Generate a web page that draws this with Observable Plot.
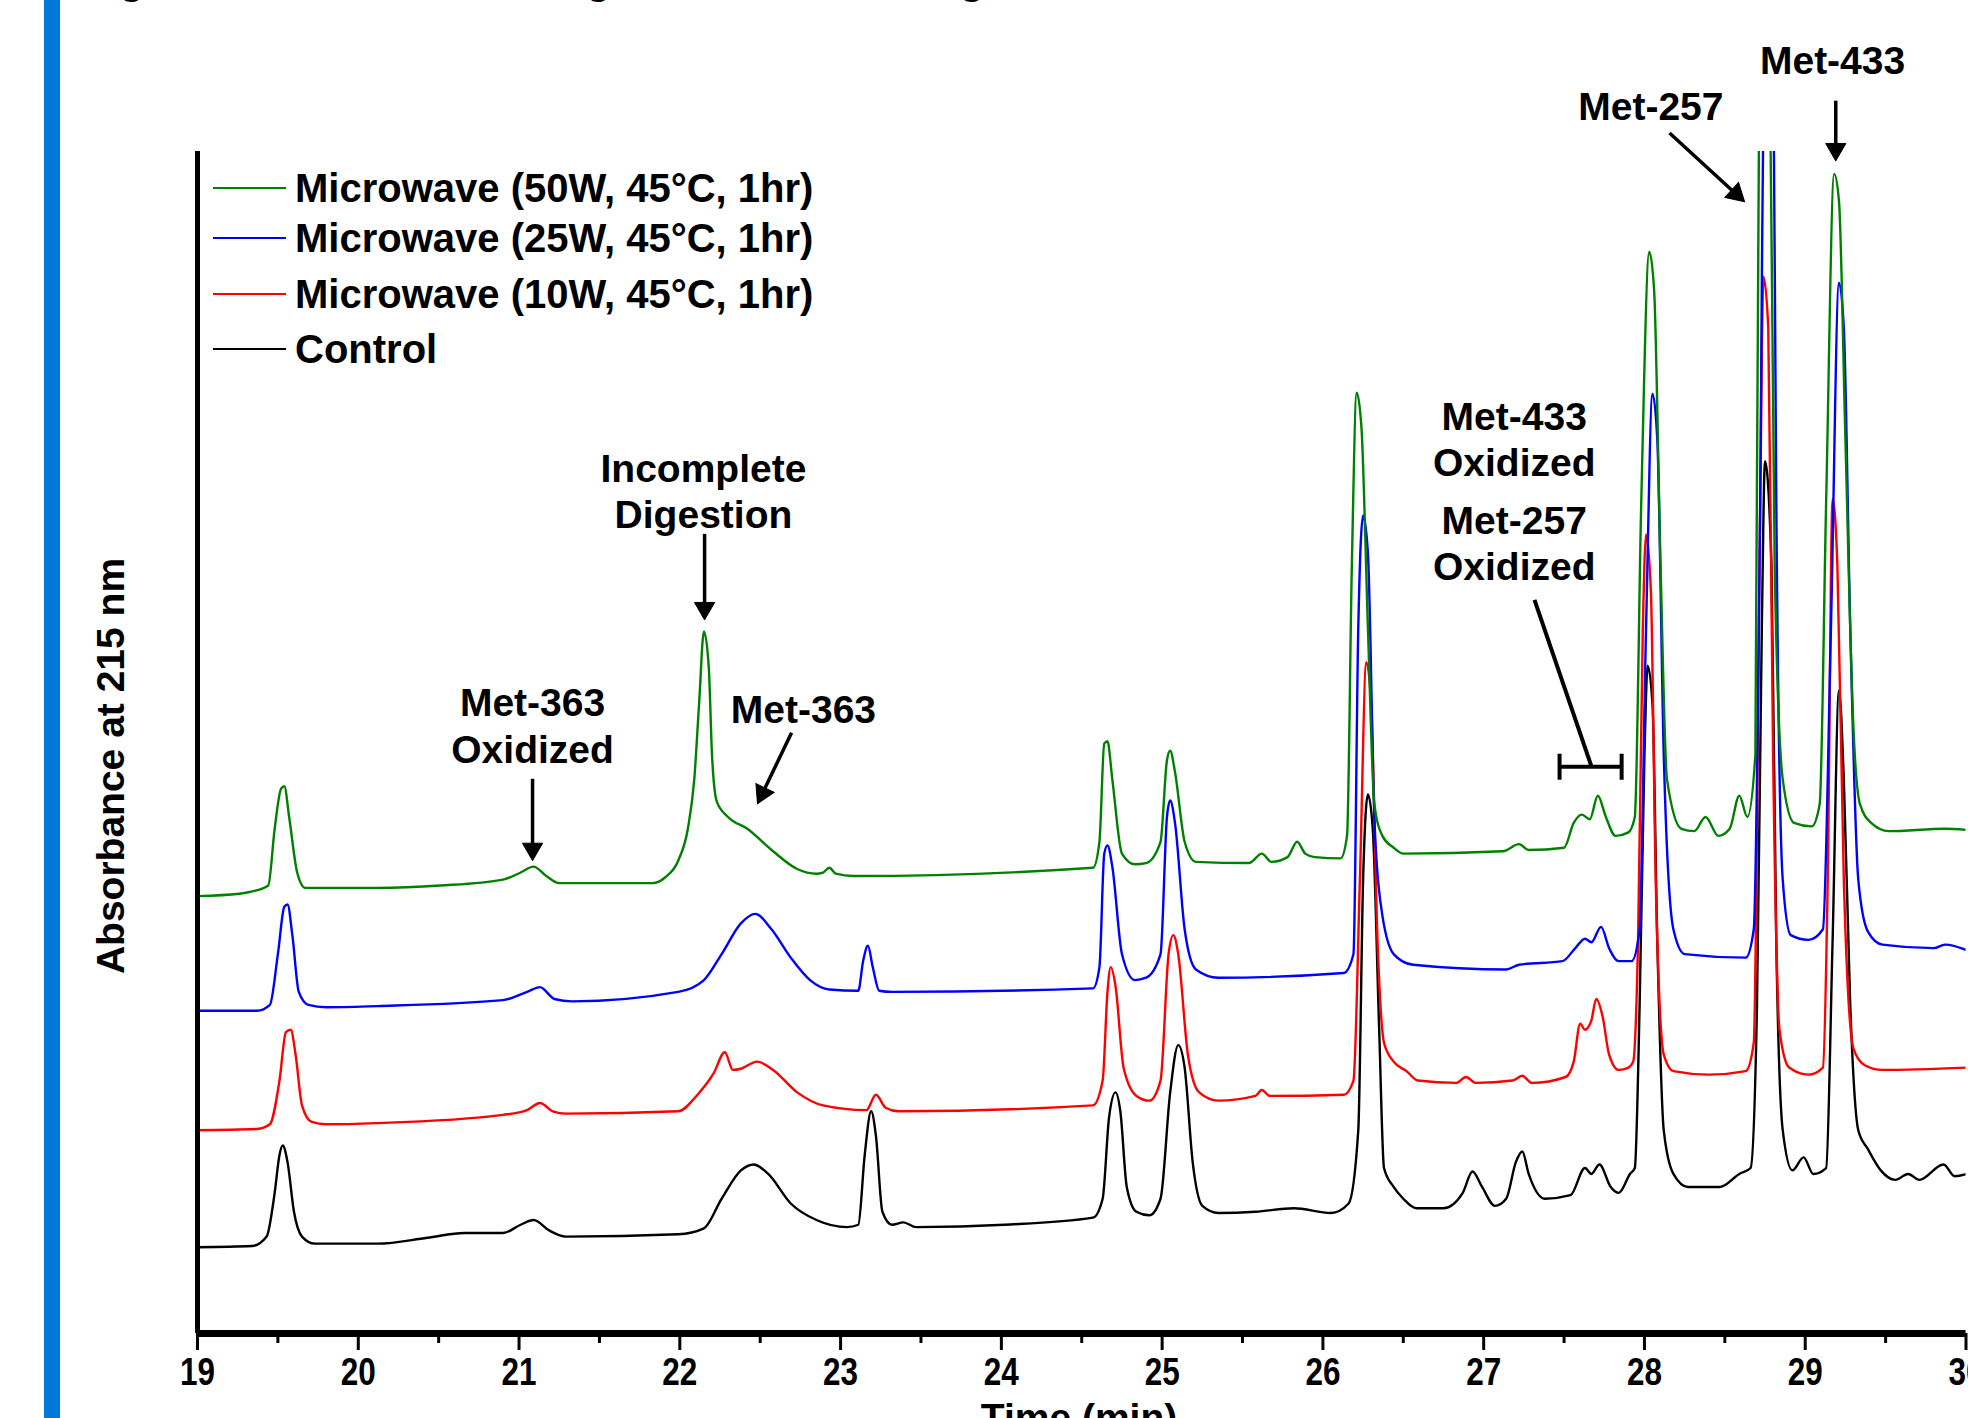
<!DOCTYPE html>
<html><head><meta charset="utf-8">
<script src="https://cdn.jsdelivr.net/npm/d3@7"></script>
<script src="https://cdn.jsdelivr.net/npm/@observablehq/plot@0.6"></script>
<style>
html,body{margin:0;padding:0;background:#fff;width:1968px;height:1418px;overflow:hidden;position:relative;font-family:"Liberation Sans",Arial,sans-serif;color:#000;}
#chart{position:absolute;left:0;top:0;}
#bar{position:absolute;left:44px;top:0;width:16px;height:1418px;background:#0078d7;}
#title{position:absolute;left:84px;top:-40px;font-size:40px;font-weight:bold;line-height:1;white-space:nowrap;}
.lg{position:absolute;left:213px;height:0;}
.lg .sw{position:absolute;left:0;top:-1px;width:73px;height:2px;}
.lg .tx{position:absolute;left:82px;top:-20px;font-size:40px;font-weight:bold;line-height:40px;white-space:nowrap;}
#ylabel{position:absolute;left:110px;top:766px;transform:translate(-50%,-50%) rotate(-90deg);font-size:39px;font-weight:bold;white-space:nowrap;line-height:1;}
#xlabel{position:absolute;left:1079px;top:1398px;transform:translateX(-50%);font-size:39px;font-weight:bold;white-space:nowrap;line-height:1;}
</style></head><body>
<div id="chart"></div>
<div id="bar"></div>
<div id="title">Figure 12. HPLC chromatograms of Control Digests</div>
<div id="legend"></div>
<div id="ylabel">Absorbance at 215 nm</div>
<div id="xlabel">Time (min)</div>
<script>
// ---- data (time in min, absorbance in arbitrary units, y-axis top = 100) ----
const seriesNames = ["Microwave (50W, 45°C, 1hr)", "Microwave (25W, 45°C, 1hr)", "Microwave (10W, 45°C, 1hr)", "Control"];
const seriesColors = ["#008000", "#0000ff", "#ff0000", "#000000"];

const control = [
 [19.00,7.3],[19.34,7.4],[19.43,8.2],[19.48,11.9],[19.51,15.1],[19.53,15.9],[19.56,14.5],[19.60,10.3],[19.65,8.2],[19.73,7.6],
 [20.12,7.6],[20.43,8.1],[20.66,8.5],[20.90,8.5],[21.01,9.2],[21.09,9.6],[21.19,8.7],[21.29,8.2],[21.99,8.4],[22.15,8.9],
 [22.26,11.4],[22.38,13.8],[22.46,14.3],[22.55,13.5],[22.69,11.0],[22.85,9.6],[23.04,9.0],[23.11,9.2],[23.15,15.1],[23.19,18.8],
 [23.22,16.7],[23.26,10.3],[23.32,9.2],[23.39,9.4],[23.47,9.0],[24.02,9.2],[24.57,9.8],[24.63,11.4],[24.67,18.3],[24.71,20.4],
 [24.74,18.8],[24.78,12.4],[24.84,10.3],[24.92,10.0],[24.99,11.4],[25.05,20.4],[25.10,24.4],[25.14,22.5],[25.19,14.5],[25.25,10.8],
 [25.35,10.2],[25.58,10.3],[25.82,10.6],[26.05,10.2],[26.16,11.0],[26.22,17.2],[26.25,38.4],[26.28,45.6],[26.31,42.7],[26.35,25.7],
 [26.38,14.0],[26.44,12.4],[26.50,11.4],[26.58,10.6],[26.75,10.6],[26.87,11.9],[26.93,13.7],[26.99,12.4],[27.07,10.8],[27.14,11.4],
 [27.20,14.5],[27.24,15.4],[27.28,13.5],[27.38,11.4],[27.54,11.7],[27.63,14.0],[27.67,13.5],[27.72,14.3],[27.79,12.4],[27.84,11.9],
 [27.91,13.5],[27.94,14.0],[27.97,27.8],[28.00,49.0],[28.02,56.5],[28.05,53.2],[28.08,33.1],[28.12,17.2],[28.18,13.5],[28.27,12.4],
 [28.47,12.4],[28.59,13.5],[28.66,14.0],[28.70,27.8],[28.73,59.7],[28.75,73.8],[28.79,65.0],[28.82,33.1],[28.86,17.2],[28.92,13.8],
 [28.99,14.9],[29.05,13.5],[29.13,14.0],[29.17,33.1],[29.21,54.4],[29.24,46.9],[29.28,27.8],[29.33,17.2],[29.39,15.6],[29.47,13.8],
 [29.56,13.0],[29.64,13.5],[29.71,13.0],[29.86,14.3],[29.93,13.3],[30.01,13.5]
];
const mw10 = [
 [19.00,17.2],[19.37,17.3],[19.45,17.7],[19.51,21.4],[19.55,25.5],[19.58,25.7],[19.61,23.6],[19.65,19.3],[19.71,17.9],[19.80,17.7],
 [20.12,17.8],[20.90,18.5],[21.05,18.9],[21.13,19.5],[21.21,18.8],[21.29,18.6],[21.99,18.8],[22.11,20.2],[22.21,22.0],[22.28,23.8],
 [22.33,22.3],[22.38,22.4],[22.48,23.0],[22.58,22.3],[22.73,20.4],[22.89,19.3],[23.16,18.9],[23.22,20.2],[23.28,19.1],[23.36,18.8],
 [24.57,19.3],[24.63,21.4],[24.66,28.9],[24.68,31.0],[24.71,29.4],[24.76,22.5],[24.84,20.1],[24.92,19.7],[24.99,21.4],[25.04,32.1],
 [25.07,33.7],[25.10,32.1],[25.16,23.6],[25.23,20.4],[25.35,19.7],[25.58,20.1],[25.62,20.6],[25.67,20.1],[26.13,20.2],[26.19,21.4],
 [26.23,38.4],[26.27,56.8],[26.30,53.3],[26.34,33.1],[26.38,24.6],[26.44,23.0],[26.52,22.2],[26.59,21.4],[26.83,21.2],[26.89,21.7],
 [26.95,21.2],[27.18,21.4],[27.24,21.8],[27.30,21.2],[27.51,21.7],[27.56,23.0],[27.60,26.2],[27.63,25.7],[27.67,26.5],[27.70,28.3],
 [27.74,26.8],[27.78,23.6],[27.84,22.3],[27.90,22.5],[27.93,23.0],[27.96,33.1],[27.99,59.7],[28.01,67.6],[28.04,62.8],[28.07,38.4],
 [28.12,23.6],[28.18,22.2],[28.40,21.9],[28.63,22.2],[28.68,24.6],[28.72,70.3],[28.74,89.4],[28.77,85.1],[28.80,49.0],[28.84,25.7],
 [28.90,22.5],[29.02,21.9],[29.11,22.5],[29.14,38.4],[29.17,70.6],[29.20,65.0],[29.24,38.4],[29.30,24.1],[29.37,22.7],[29.48,22.3],
 [30.01,22.5]
];
const mw25 = [
 [19.00,27.3],[19.37,27.3],[19.45,27.8],[19.50,32.1],[19.54,36.1],[19.56,36.3],[19.59,33.7],[19.63,28.9],[19.69,27.8],[19.80,27.6],
 [20.12,27.7],[20.90,28.2],[21.05,28.9],[21.13,29.3],[21.22,28.3],[21.33,28.1],[21.99,28.9],[22.15,29.9],[22.26,32.1],[22.38,34.7],
 [22.47,35.5],[22.57,34.2],[22.69,31.8],[22.81,29.9],[22.93,29.1],[23.11,29.0],[23.14,31.5],[23.17,32.8],[23.20,31.0],[23.24,29.0],
 [23.32,28.9],[24.57,29.2],[24.61,31.0],[24.64,40.6],[24.66,41.3],[24.69,39.5],[24.75,32.1],[24.83,29.9],[24.90,30.1],[24.99,32.1],
 [25.03,43.7],[25.05,45.1],[25.08,43.2],[25.14,34.2],[25.21,30.8],[25.35,30.1],[26.13,30.5],[26.19,32.1],[26.22,59.7],[26.25,69.2],
 [26.28,66.0],[26.32,43.7],[26.36,36.3],[26.44,32.1],[26.56,31.2],[27.14,30.8],[27.22,31.2],[27.49,31.5],[27.57,32.6],[27.63,33.4],
 [27.67,33.1],[27.73,34.4],[27.78,32.6],[27.84,31.5],[27.92,31.5],[27.97,34.2],[28.01,59.7],[28.05,79.5],[28.08,75.6],[28.12,49.0],
 [28.18,34.2],[28.25,32.1],[28.63,31.8],[28.68,34.2],[28.72,70.3],[28.75,118.0],[28.78,120.0],[28.80,110.0],[28.82,70.3],[28.86,38.4],
 [28.91,33.7],[29.02,33.3],[29.11,34.2],[29.16,59.7],[29.21,88.9],[29.24,85.1],[29.28,59.7],[29.33,38.4],[29.39,34.0],[29.48,32.9],
 [29.80,32.6],[29.87,32.9],[30.01,32.4]
];
const mw50 = [
 [19.00,37.0],[19.26,37.2],[19.34,37.4],[19.44,37.9],[19.48,42.7],[19.52,46.1],[19.54,46.3],[19.57,43.7],[19.62,39.0],[19.67,37.7],
 [20.12,37.7],[20.51,37.9],[20.90,38.4],[21.01,39.0],[21.09,39.5],[21.17,38.7],[21.25,38.1],[21.83,38.1],[21.91,38.6],[21.99,40.0],
 [22.05,42.7],[22.09,46.9],[22.12,53.3],[22.15,59.4],[22.18,56.4],[22.20,49.0],[22.23,45.0],[22.30,43.7],[22.42,42.7],[22.58,40.8],
 [22.73,39.3],[22.85,38.9],[22.89,39.0],[22.93,39.4],[22.97,38.9],[23.08,38.7],[24.57,39.4],[24.61,41.6],[24.64,49.9],[24.66,50.1],
 [24.69,46.9],[24.75,40.6],[24.83,39.7],[24.90,39.8],[24.99,41.6],[25.03,48.5],[25.05,49.3],[25.08,47.5],[25.14,41.6],[25.21,39.9],
 [25.54,39.8],[25.62,40.6],[25.68,39.9],[25.78,40.3],[25.84,41.6],[25.89,40.6],[25.95,40.3],[26.11,40.2],[26.15,42.1],[26.18,65.0],
 [26.21,79.6],[26.24,76.6],[26.28,59.7],[26.32,44.8],[26.37,42.1],[26.44,41.1],[26.50,40.6],[27.12,40.8],[27.22,41.4],[27.28,40.9],
 [27.50,41.1],[27.56,43.2],[27.61,43.9],[27.66,43.5],[27.71,45.5],[27.76,43.7],[27.82,42.1],[27.90,42.4],[27.94,43.7],[27.98,70.3],
 [28.03,91.5],[28.06,88.3],[28.10,65.0],[28.14,46.9],[28.23,42.7],[28.31,42.5],[28.38,43.7],[28.46,42.1],[28.53,42.7],[28.59,45.5],
 [28.64,43.7],[28.69,49.0],[28.72,120.0],[28.75,125.0],[28.77,120.0],[28.81,65.0],[28.86,46.9],[28.93,43.2],[29.04,42.9],[29.09,44.8],
 [29.13,70.3],[29.18,98.1],[29.21,95.8],[29.25,75.6],[29.30,51.2],[29.34,44.8],[29.41,43.2],[29.52,42.5],[29.87,42.7],[30.01,42.6]
];
const seriesData = [mw50, mw25, mw10, control];

const xTicks = [19,20,21,22,23,24,25,26,27,28,29,30];
const xMinorTicks = [19.5,20.5,21.5,22.5,23.5,24.5,25.5,26.5,27.5,28.5,29.5];

const annotationLabels = [
 {text:"Met-433", x:29.17, y:107.8},
 {text:"Met-257", x:28.04, y:103.9},
 {text:"Met-433\nOxidized", x:27.19, y:75.7},
 {text:"Met-257\nOxidized", x:27.19, y:66.9},
 {text:"Incomplete\nDigestion", x:22.147, y:71.3},
 {text:"Met-363\nOxidized", x:21.084, y:51.5},
 {text:"Met-363", x:22.769, y:52.9}
];
const annotationArrows = [
 {x1:29.19, y1:104.3, x2:29.19, y2:99.2},
 {x1:28.156, y1:101.57, x2:28.623, y2:95.74},
 {x1:22.154, y1:67.65, x2:22.154, y2:60.37},
 {x1:21.084, y1:46.93, x2:21.084, y2:40.0},
 {x1:22.695, y1:50.82, x2:22.483, y2:44.82}
];
const bracketLines = [
 {x1:27.316, y1:62.07, x2:27.671, y2:47.95},
 {x1:27.472, y1:47.95, x2:27.858, y2:47.95},
 {x1:27.472, y1:49.05, x2:27.472, y2:46.85},
 {x1:27.858, y1:49.05, x2:27.858, y2:46.85}
];

// ---- layout ----
const W = 1968, H = 1418, ML = 197, MR = 2.5, MT = 151, MB = 85;
const xDomain = [19, 30], yDomain = [0, 100];
const kx = (W - ML - MR) / (xDomain[1] - xDomain[0]);
const ky = (H - MT - MB) / (yDomain[1] - yDomain[0]);
const headR = 7.5, headBack = 2 * Math.sqrt(Math.PI * headR * headR / (Math.sqrt(3) * 3));
const heads = annotationArrows.map(a => {
  const dx = (a.x2 - a.x1) * kx, dy = -(a.y2 - a.y1) * ky;
  const len = Math.hypot(dx, dy), ux = dx / len, uy = dy / len;
  return {
    x: a.x2 - ux * headBack / kx, y: a.y2 + uy * headBack / ky,
    x1: a.x1, y1: a.y1,
    rot: Math.atan2(dx, -dy) * 180 / Math.PI
  };
});

const order = [3, 2, 1, 0];
const chart = Plot.plot({
  width: W, height: H,
  marginLeft: ML, marginRight: MR, marginTop: MT, marginBottom: MB,
  x: {domain: xDomain, axis: null},
  y: {domain: yDomain, axis: null},
  style: {background: "transparent", fontFamily: "Liberation Sans, Arial, sans-serif", overflow: "visible"},
  marks: [
    ...order.map(i => Plot.line(seriesData[i], {x: d => d[0], y: d => d[1], stroke: seriesColors[i], strokeWidth: 2.4, curve: "monotone-x", clip: true})),
    Plot.ruleX([xDomain[0]], {stroke: "black", strokeWidth: 5}),
    Plot.ruleY([yDomain[0]], {stroke: "black", strokeWidth: 7}),
    Plot.axisX({ticks: xTicks, tickSize: 17, tickPadding: 8, strokeWidth: 3, fontSize: 38, fontWeight: "bold",
      fontFamily: "Liberation Sans, Arial, sans-serif", label: null, tickFormat: d => String(d)}),
    Plot.axisX({ticks: xMinorTicks, tickSize: 10, strokeWidth: 3, text: null, label: null}),
    Plot.text(annotationLabels, {x: "x", y: "y", text: "text", fontSize: 39, fontWeight: "bold", lineHeight: 1.18, lineAnchor: "middle", fill: "black"}),
    Plot.link(heads, {x1: "x1", y1: "y1", x2: "x", y2: "y", stroke: "black", strokeWidth: 3.5}),
    Plot.dot(heads, {x: "x", y: "y", symbol: "triangle", r: headR, fill: "black", stroke: "black", strokeWidth: 1, rotate: "rot"}),
    Plot.link(bracketLines, {x1: "x1", y1: "y1", x2: "x2", y2: "y2", stroke: "black", strokeWidth: 4})
  ]
});
// condensed tick labels like the original's narrow digits
chart.querySelectorAll('g[aria-label="x-axis tick label"] text').forEach(t => {
  const n = t.textContent.length;
  t.setAttribute("textLength", 17.5 * n);
  t.setAttribute("lengthAdjust", "spacingAndGlyphs");
});
document.getElementById("chart").appendChild(chart);

// legend
const legendRows = [188, 238, 294, 349];
const lg = document.getElementById("legend");
seriesNames.forEach((name, i) => {
  const row = document.createElement("div");
  row.className = "lg";
  row.style.top = legendRows[i] + "px";
  row.innerHTML = `<div class="sw" style="background:${seriesColors[i]}"></div><div class="tx"></div>`;
  row.querySelector(".tx").textContent = name;
  lg.appendChild(row);
});
</script>
</body></html>
